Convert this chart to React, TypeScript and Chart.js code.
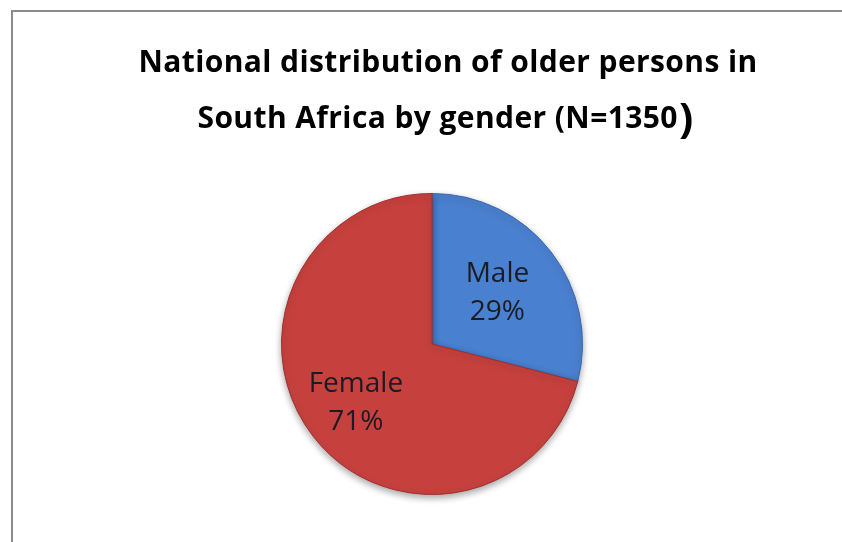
import React, { useEffect, useRef } from "react";
import { Chart, registerables } from "chart.js";

Chart.register(...registerables);

const titleLine1 = "National distribution of older persons in";
const titleLine2 = "South Africa by gender (N=1350";
const titleLine2End = ")";
const categories = ["Male", "Female"];
const percentages = [29, 71];
const sliceColors = ["#4a80d0", "#c6413e"];
const sliceEdgeColors = ["#3a68ad", "#9e2f2d"];
const labelRadiusFractions = [0.55, 0.64];

const TITLE_FONT = "bold 30px 'Open Sans'";
const TITLE_PAREN_FONT = "bold 42px 'Open Sans'";

const titlePlugin = {
  id: "customTitle",
  afterDraw(chart: any) {
    const ctx = chart.ctx;
    const cx = 448;
    ctx.save();
    ctx.fillStyle = "#000000";
    ctx.textBaseline = "alphabetic";
    ctx.textAlign = "left";
    (ctx as any).letterSpacing = "0.4px";
    ctx.font = TITLE_FONT;
    const w1 = ctx.measureText(titleLine1).width;
    ctx.fillText(titleLine1, cx - w1 / 2, 72);
    const w2 = ctx.measureText(titleLine2).width;
    ctx.font = TITLE_PAREN_FONT;
    const wp = ctx.measureText(titleLine2End).width;
    const x2 = cx - (w2 + wp) / 2 - 3;
    ctx.font = TITLE_FONT;
    ctx.fillText(titleLine2, x2, 128);
    ctx.font = TITLE_PAREN_FONT;
    ctx.fillText(titleLine2End, x2 + w2 + 1, 133);
    ctx.restore();
  },
};

const shadowPlugin = {
  id: "pieShadow",
  beforeDatasetDraw(chart: any) {
    const ctx = chart.ctx;
    ctx.save();
    ctx.shadowColor = "rgba(0,0,0,0.35)";
    ctx.shadowBlur = 7;
    ctx.shadowOffsetX = 0;
    ctx.shadowOffsetY = 3;
  },
  afterDatasetDraw(chart: any) {
    chart.ctx.restore();
  },
};

const sliceLabelPlugin = {
  id: "sliceLabels",
  afterDatasetsDraw(chart: any) {
    const ctx = chart.ctx;
    const meta = chart.getDatasetMeta(0);
    const values = chart.data.datasets[0].data as number[];
    const total = values.reduce((a, b) => a + b, 0);
    meta.data.forEach((arc: any, i: number) => {
      const p = arc.getProps(["x", "y", "startAngle", "endAngle", "outerRadius"], true);
      const mid = (p.startAngle + p.endAngle) / 2;
      const r = p.outerRadius * labelRadiusFractions[i];
      const x = p.x + Math.cos(mid) * r;
      const y = p.y + Math.sin(mid) * r;
      const pct = Math.round((values[i] / total) * 100) + "%";
      ctx.save();
      ctx.fillStyle = "#1b1b24";
      ctx.font = "28px 'Open Sans'";
      ctx.textAlign = "center";
      ctx.textBaseline = "middle";
      ctx.fillText(String(chart.data.labels[i]), x, y - 19);
      ctx.fillText(pct, x, y + 19);
      ctx.restore();
    });
  },
};

export default function App() {
  const ref = useRef<HTMLCanvasElement>(null);
  useEffect(() => {
    if (!ref.current) return;
    const chart = new Chart(ref.current, {
      type: "pie",
      data: {
        labels: categories,
        datasets: [
          {
            data: percentages,
            backgroundColor: sliceColors,
            borderColor: sliceEdgeColors,
            borderWidth: 1,
          },
        ],
      },
      options: {
        responsive: false,
        animation: false,
        layout: { padding: { left: 22, right: 0, top: 193, bottom: 47 } },
        plugins: {
          legend: { display: false },
          tooltip: { enabled: false },
          title: { display: false },
        },
      },
      plugins: [shadowPlugin, sliceLabelPlugin, titlePlugin],
    });
    return () => chart.destroy();
  }, []);
  return (
    <div>
      <div
        style={{
          position: "absolute",
          left: 11,
          top: 10,
          width: 842,
          height: 542,
          borderLeft: "2px solid #8a8a8a",
          borderTop: "2px solid #8a8a8a",
        }}
      />
      <canvas
        ref={ref}
        width={842}
        height={542}
        style={{ position: "absolute", left: 0, top: 0, width: 842, height: 542 }}
      />
    </div>
  );
}
